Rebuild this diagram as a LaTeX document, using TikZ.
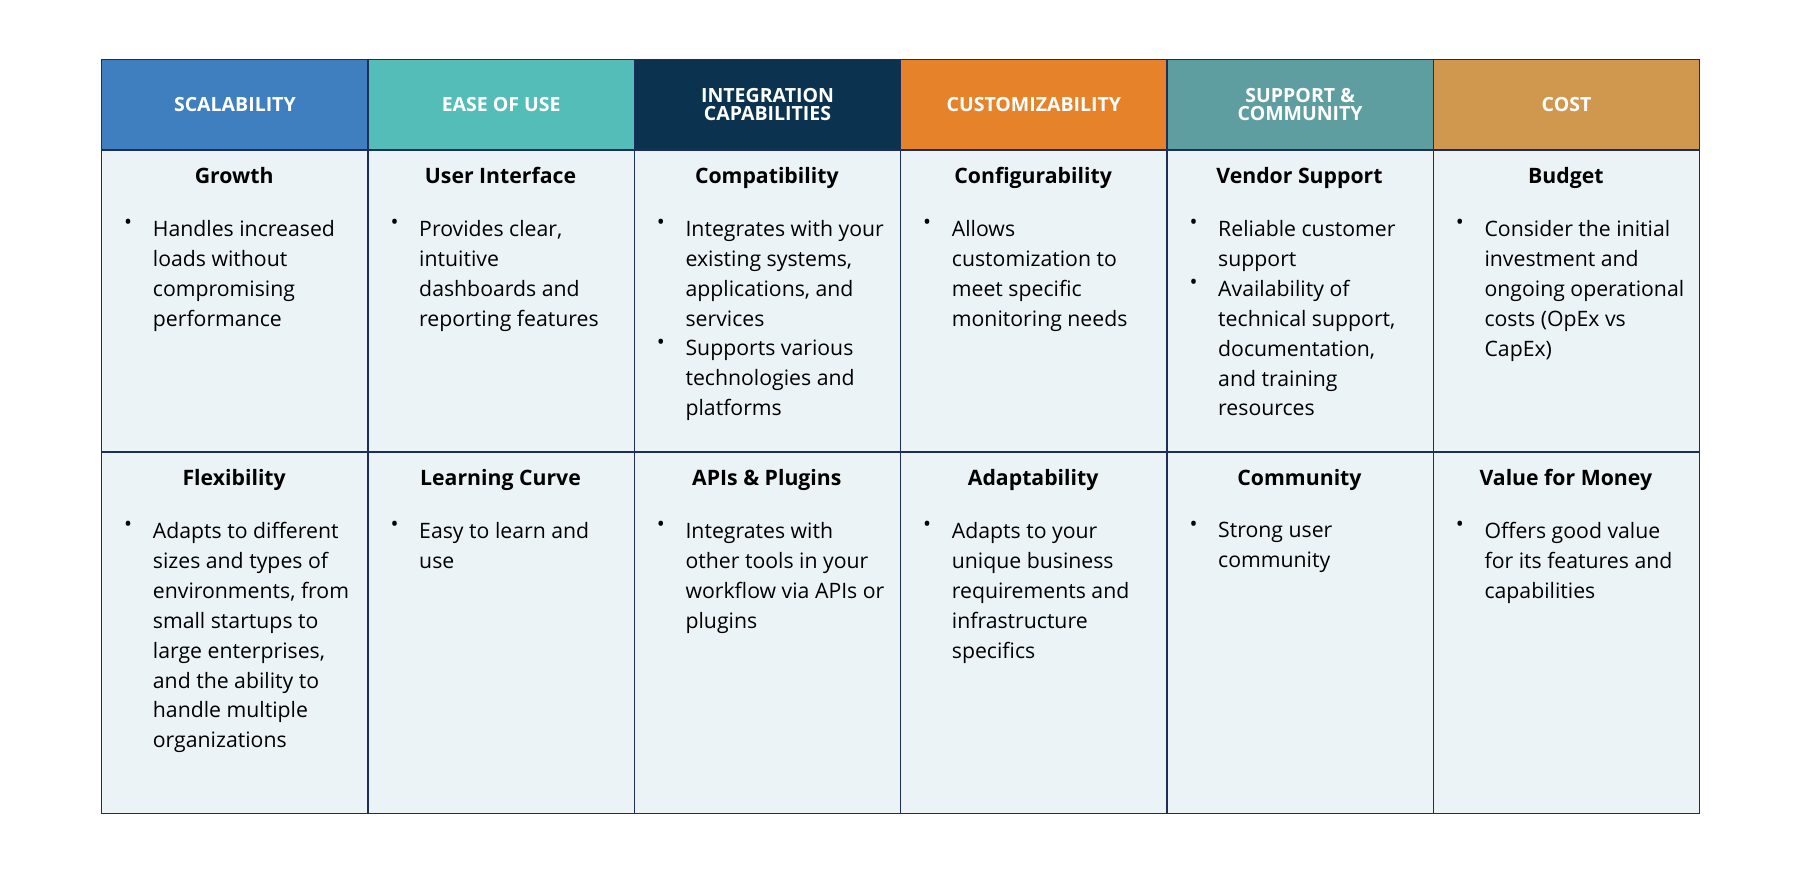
\documentclass[tikz,border=0pt]{standalone}
\usepackage{fontspec}
\setmainfont{Open Sans}
\definecolor{bordc}{HTML}{1F2D5A}
\definecolor{cellc}{HTML}{ECF3F7}
\definecolor{c1}{HTML}{3F7FBF}
\definecolor{c2}{HTML}{55BDB8}
\definecolor{c3}{HTML}{0B3350}
\definecolor{c4}{HTML}{E6832A}
\definecolor{c5}{HTML}{5F9EA0}
\definecolor{c6}{HTML}{D0984E}
\begin{document}
\begin{tikzpicture}[x=1pt,y=-1pt,
 head/.style={draw=bordc,line width=1.2pt,minimum width=232pt,minimum height=79pt,anchor=north west,text=white,font=\fontsize{17}{18}\selectfont\bfseries,align=center,inner sep=0pt},
 body/.style={draw=bordc,line width=1.2pt,fill=cellc,minimum width=232pt,anchor=north west,inner sep=0pt},
 ttl/.style={font=\fontsize{18.5}{22}\selectfont\bfseries,anchor=base},
 txt/.style={font=\fontsize{18.5}{26}\selectfont,anchor=north west,align=left,inner sep=0pt},
 bul/.style={font=\fontsize{18.5}{26}\selectfont,anchor=north west,inner sep=0pt}]
\useasboundingbox (0,0) rectangle (1568,763);
\fill[white] (0,0) rectangle (1568,763);
% rows
\foreach \i in {0,...,5}{
 \node[body,minimum height=263pt] (a\i) at (88+232*\i,130) {};
 \node[body,minimum height=315pt] (b\i) at (88+232*\i,393) {};
}
\node[head,fill=c1] (h0) at (88,51) {SCALABILITY};
\node[head,fill=c2] (h1) at (320,51) {EASE OF USE};
\node[head,fill=c3] (h2) at (552,51) {INTEGRATION\\[-3pt]CAPABILITIES};
\node[head,fill=c4] (h3) at (784,51) {CUSTOMIZABILITY};
\node[head,fill=c5] (h4) at (1016,51) {SUPPORT \&\\[-3pt]COMMUNITY};
\node[head,fill=c6] (h5) at (1248,51) {COST};
\newcommand\mycell[4]{%
 \node[ttl] (#1t) at (#2+116,#3+30) {#4};}
\newcommand\mybul[4]{%
 \node[bul] (#1b) at (#2+20,#3-1) {\textbullet};
 \node[txt] (#1x) at (#2+45,#3) {#4};}
% row 1
\mycell{r1c0}{88}{130}{Growth}
\mybul{r1c0}{88}{192}{Handles increased\\loads without\\compromising\\performance}
\mycell{r1c1}{320}{130}{User Interface}
\mybul{r1c1}{320}{192}{Provides clear,\\intuitive\\dashboards and\\reporting features}
\mycell{r1c2}{552}{130}{Compatibility}
\mybul{r1c2}{552}{192}{Integrates with your\\existing systems,\\applications, and\\services}
\mybul{r1c2b}{552}{296}{Supports various\\technologies and\\platforms}
\mycell{r1c3}{784}{130}{Configurability}
\mybul{r1c3}{784}{192}{Allows\\customization to\\meet specific\\monitoring needs}
\mycell{r1c4}{1016}{130}{Vendor Support}
\mybul{r1c4}{1016}{192}{Reliable customer\\support}
\mybul{r1c4b}{1016}{244}{Availability of\\technical support,\\documentation,\\and training\\resources}
\mycell{r1c5}{1248}{130}{Budget}
\mybul{r1c5}{1248}{192}{Consider the initial\\investment and\\ongoing operational\\costs (OpEx vs\\CapEx)}
% row 2
\mycell{r2c0}{88}{393}{Flexibility}
\mybul{r2c0}{88}{455}{Adapts to different\\sizes and types of\\environments, from\\small startups to\\large enterprises,\\and the ability to\\handle multiple\\organizations}
\mycell{r2c1}{320}{393}{Learning Curve}
\mybul{r2c1}{320}{455}{Easy to learn and\\use}
\mycell{r2c2}{552}{393}{APIs \& Plugins}
\mybul{r2c2}{552}{455}{Integrates with\\other tools in your\\workflow via APIs or\\plugins}
\mycell{r2c3}{784}{393}{Adaptability}
\mybul{r2c3}{784}{455}{Adapts to your\\unique business\\requirements and\\infrastructure\\specifics}
\mycell{r2c4}{1016}{393}{Community}
\mybul{r2c4}{1016}{455}{Strong user\\community}
\mycell{r2c5}{1248}{393}{Value for Money}
\mybul{r2c5}{1248}{455}{Offers good value\\for its features and\\capabilities}
\end{tikzpicture}
\end{document}
